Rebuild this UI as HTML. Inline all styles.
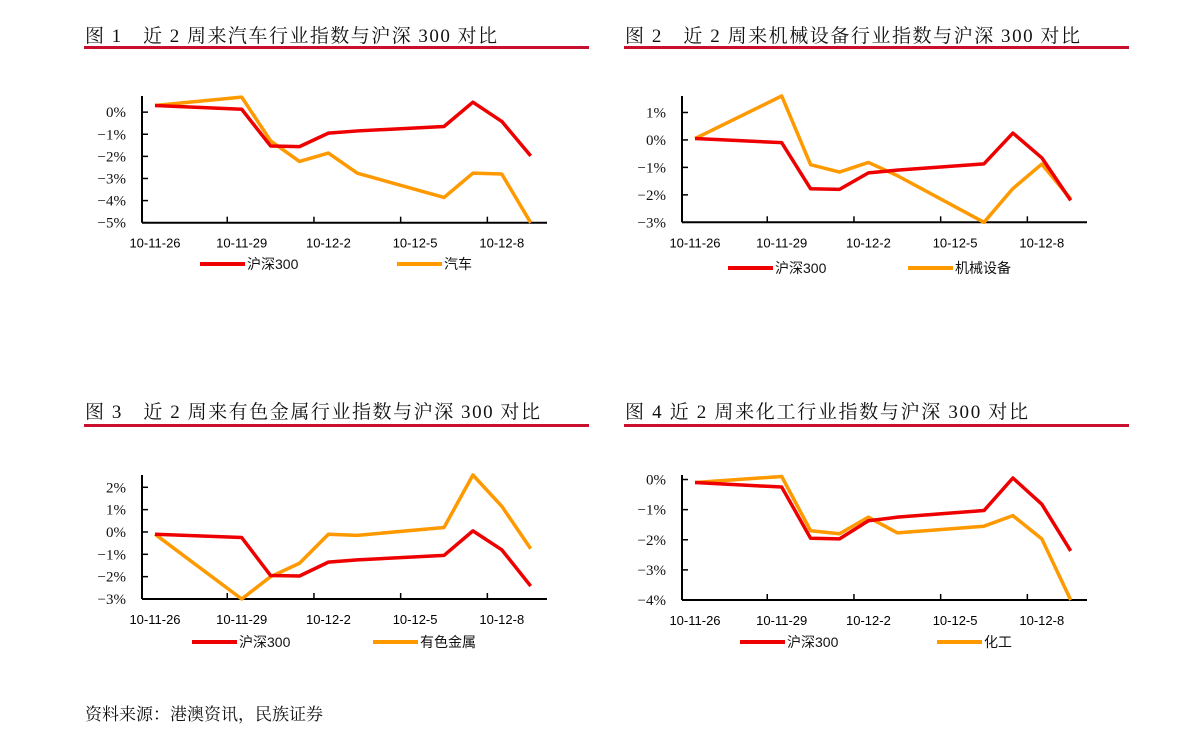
<!DOCTYPE html>
<html><head><meta charset="utf-8">
<style>
html,body{margin:0;padding:0;background:#fff;}
svg{display:block;}
.t{font-family:"Liberation Serif","Noto Serif CJK SC",serif;font-size:19px;fill:#111;}
.yl{font-family:"Liberation Serif",serif;font-size:15px;fill:#111;}
.xl{font-family:"Liberation Sans",sans-serif;font-size:13px;fill:#000;}
.lg{font-family:"Liberation Sans","Noto Sans CJK SC",sans-serif;font-size:14px;fill:#111;}
</style></head>
<body>
<svg id="page" width="1191" height="745" viewBox="0 0 1191 745" xmlns="http://www.w3.org/2000/svg">
<text class="t" x="85" y="42" textLength="412">图 1　近 2 周来汽车行业指数与沪深 300 对比</text>
<rect x="84" y="46" width="505" height="3" fill="#c8102e"/>
<text class="t" x="625" y="42" textLength="455">图 2　近 2 周来机械设备行业指数与沪深 300 对比</text>
<rect x="624" y="46" width="505" height="3" fill="#c8102e"/>
<text class="t" x="85" y="418" textLength="455">图 3　近 2 周来有色金属行业指数与沪深 300 对比</text>
<rect x="84" y="424" width="505" height="3" fill="#c8102e"/>
<text class="t" x="625" y="418" textLength="403">图 4 近 2 周来化工行业指数与沪深 300 对比</text>
<rect x="624" y="424" width="505" height="3" fill="#c8102e"/>
<text class="t" x="85" y="720" style="font-size:17px">资料来源：港澳资讯，民族证券</text>
<g id="charts"></g>
</svg>
<script>
// shared categories: trading-day offsets from 10-11-26
const dayOffsets = [0, 3, 4, 5, 6, 7, 10, 11, 12, 13];
const xTickLabels = ["10-11-26", "10-11-29", "10-12-2", "10-12-5", "10-12-8"];
const xTickDays = [0, 3, 6, 9, 12];
const seriesNames1 = ["沪深300", "汽车"];
const hs300Chart1 = [0.3, 0.13, -1.53, -1.56, -0.95, -0.85, -0.65, 0.45, -0.42, -1.98];
const autoChart1 = [0.3, 0.68, -1.3, -2.23, -1.85, -2.76, -3.86, -2.76, -2.8, -5.0];
const yTicks1 = [0, -1, -2, -3, -4, -5];
const seriesNames2 = ["沪深300", "机械设备"];
const hs300Chart2 = [0.05, -0.1, -1.78, -1.8, -1.2, -1.1, -0.87, 0.25, -0.65, -2.2];
const machChart2 = [0.05, 1.6, -0.9, -1.17, -0.82, -1.3, -3.0, -1.77, -0.88, -2.15];
const yTicks2 = [1, 0, -1, -2, -3];
const seriesNames3 = ["沪深300", "有色金属"];
const hs300Chart3 = [-0.1, -0.25, -1.95, -1.97, -1.35, -1.25, -1.05, 0.05, -0.8, -2.42];
const metalChart3 = [-0.1, -3.0, -2.0, -1.4, -0.1, -0.15, 0.2, 2.55, 1.15, -0.75];
const yTicks3 = [2, 1, 0, -1, -2, -3];
const seriesNames4 = ["沪深300", "化工"];
const hs300Chart4 = [-0.1, -0.25, -1.95, -1.97, -1.37, -1.25, -1.03, 0.05, -0.82, -2.37];
const chemChart4 = [-0.1, 0.1, -1.7, -1.8, -1.25, -1.77, -1.55, -1.2, -1.97, -4.0];
const yTicks4 = [0, -1, -2, -3, -4];

const NS = "http://www.w3.org/2000/svg";
const root = document.getElementById("charts");
function mk(tag, attrs, parent) {
  const e = document.createElementNS(NS, tag);
  for (const k in attrs) e.setAttribute(k, attrs[k]);
  parent.appendChild(e);
  return e;
}
function chart(id, ox, top, bottom, yMax, yMin, ticks, a, b, names, leg) {
  const g = mk("g", {}, root);
  
  
  const axL = ox + 62, axR = ox + 467;
  const x0 = ox + 75, dx = 28.9;
  const xs = d => x0 + d * dx;
  const ys = v => top + (yMax - v) / (yMax - yMin) * (bottom - top);
  // y axis
  const ya = mk("line", {x1: axL, y1: top, x2: axL, y2: bottom, stroke: "#000", "stroke-width": 2}, g);
  
  
  ticks.forEach(t => {
    mk("line", {x1: axL, y1: ys(t), x2: axL + 6, y2: ys(t), stroke: "#000", "stroke-width": 1.5}, g);
    const tx = mk("text", {x: axL - 16, y: ys(t) + 5, "text-anchor": "end", class: "yl"}, g);
    tx.textContent = (t < 0 ? "−" + (-t) : t) + "%";
    
    
  });
  const xa = mk("line", {x1: axL, y1: bottom, x2: axR, y2: bottom, stroke: "#000", "stroke-width": 2}, g);
  
  
  xTickDays.forEach((d, i) => {
    if (i > 0) mk("line", {x1: xs(d) - dx / 2, y1: bottom, x2: xs(d) - dx / 2, y2: bottom - 6, stroke: "#000", "stroke-width": 1.5}, g);
    const tx = mk("text", {x: xs(d), y: bottom + 25, "text-anchor": "middle", class: "xl"}, g);
    tx.textContent = xTickLabels[i];
    
    
  });
  const cols = ["#ff9900", "#ee0000"];
  [b, a].forEach((s, k) => {
    const p = mk("polyline", {points: s.map((v, i) => xs(dayOffsets[i]) + "," + ys(v)).join(" "), fill: "none", stroke: cols[k], "stroke-width": 3.5, "stroke-linejoin": "round"}, g);
    
    
  });
  // legend
  [[leg[0], "#ee0000", names[0]], [leg[1], "#ff9900", names[1]]].forEach(([lx, c, n]) => {
    const l = mk("line", {x1: lx, y1: leg[2], x2: lx + 45, y2: leg[2], stroke: c, "stroke-width": 4}, g);
    
    
    const t = mk("text", {x: lx + 47, y: leg[2] + 5, class: "lg"}, g);
    t.textContent = n;
    
    
  });
}
chart("chart-auto", 80, 96, 222.7, 0.73, -5, yTicks1, hs300Chart1, autoChart1, seriesNames1, [200, 397, 264]);
chart("chart-machinery", 620, 96, 222.3, 1.6, -3, yTicks2, hs300Chart2, machChart2, seriesNames2, [728, 908, 268]);
chart("chart-metals", 80, 475, 599, 2.55, -3, yTicks3, hs300Chart3, metalChart3, seriesNames3, [192, 373, 642]);
chart("chart-chemicals", 620, 475, 600, 0.15, -4, yTicks4, hs300Chart4, chemChart4, seriesNames4, [740, 937, 642]);
</script>
</body></html>
